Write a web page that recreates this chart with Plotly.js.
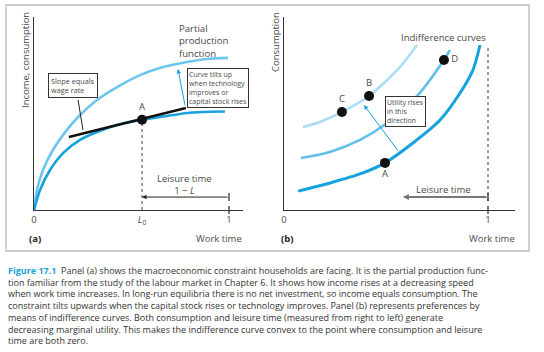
<!DOCTYPE html>
<html><head><meta charset="utf-8">
<script src="https://cdn.plot.ly/plotly-3.0.1.min.js"></script>
<style>html,body{margin:0;padding:0;background:#fff}#chart{width:544px;height:352px}</style>
</head><body><div id="chart"></div>
<script>
// ---------- Panel (a): partial production function ----------
const workA   = [0, 0.031, 0.082, 0.149, 0.236, 0.323, 0.426, 0.549, 0.662, 0.785, 0.867, 0.979];
const lowerA  = [0, 0.104, 0.207, 0.295, 0.363, 0.404, 0.440, 0.466, 0.484, 0.503, 0.508, 0.510];
const workA2  = [0, 0.015, 0.046, 0.097, 0.169, 0.236, 0.323, 0.426, 0.544, 0.662, 0.785, 0.887, 0.995];
const upperA  = [0, 0.104, 0.207, 0.311, 0.415, 0.492, 0.570, 0.637, 0.699, 0.741, 0.767, 0.782, 0.788];
const L0 = 0.554;
const pointAy = 0.468;
const tangentX = [0.179, 0.779];
const tangentY = [0.378, 0.528];
const leisureY = 0.067;
const tickValsA = [0, L0, 1];
const tickTextA = ['0', '<i>L</i><sub>0</sub>', '1'];

// ---------- Panel (b): indifference curves ----------
const icLowX  = [0.069, 0.225, 0.387, 0.495, 0.632, 0.765, 0.863, 0.926, 0.961];
const icLowY  = [0.098, 0.140, 0.192, 0.244, 0.347, 0.466, 0.606, 0.725, 0.855];
const icMidX  = [0.083, 0.225, 0.373, 0.505, 0.657, 0.784, 0.814];
const icMidY  = [0.269, 0.301, 0.363, 0.451, 0.596, 0.777, 0.829];
const icHighX = [0.093, 0.176, 0.284, 0.417, 0.485, 0.569, 0.652];
const icHighY = [0.430, 0.456, 0.508, 0.591, 0.653, 0.741, 0.855];
const ptLabels = ['A', 'B', 'C', 'D'];
const ptX = [0.495, 0.417, 0.284, 0.784];
const ptY = [0.244, 0.591, 0.508, 0.777];
const ptPos = ['bottom center', 'top center', 'top center', 'middle right'];
const leisureHeadB = 0.583;
const dottedTopB = 0.855;
const tickValsB = [0, 1];
const tickTextB = ['0', '1'];

const W = 544, H = 352;
const px = x => x / W, py = y => 1 - y / H;
const FONT = 'Open Sans, Noto Sans, sans-serif';
const TXT = '#4a4a4a';
const BLUE = '#16a2de', BLUE_MID = '#62bfea', BLUE_LIGHT = '#a9dcf5', BLUE_A_UP = '#6cc6ef';

const traces = [
  {x: workA2, y: upperA, xaxis: 'x', yaxis: 'y', mode: 'lines', line: {color: BLUE_A_UP, width: 2.6, shape: 'spline', smoothing: 0.8}, cliponaxis: false, hoverinfo: 'skip'},
  {x: workA, y: lowerA, xaxis: 'x', yaxis: 'y', mode: 'lines', line: {color: BLUE, width: 2.6, shape: 'spline', smoothing: 0.8}, cliponaxis: false, hoverinfo: 'skip'},
  {x: [L0, L0], y: [0, pointAy], xaxis: 'x', yaxis: 'y', mode: 'lines', line: {color: '#777', width: 1.4, dash: 'dot'}, hoverinfo: 'skip'},
  {x: tangentX, y: tangentY, xaxis: 'x', yaxis: 'y', mode: 'lines', line: {color: '#111', width: 2.6}, hoverinfo: 'skip'},
  {x: [L0], y: [pointAy], xaxis: 'x', yaxis: 'y', mode: 'markers+text', text: ['A'], textposition: 'top center',
   textfont: {family: FONT, size: 9.5, color: TXT}, marker: {color: '#111', size: 10}, cliponaxis: false, hoverinfo: 'skip'},

  {x: icHighX, y: icHighY, xaxis: 'x2', yaxis: 'y2', mode: 'lines', line: {color: BLUE_LIGHT, width: 2.6, shape: 'spline', smoothing: 0.8}, hoverinfo: 'skip'},
  {x: icMidX, y: icMidY, xaxis: 'x2', yaxis: 'y2', mode: 'lines', line: {color: BLUE_MID, width: 2.6, shape: 'spline', smoothing: 0.8}, hoverinfo: 'skip'},
  {x: icLowX, y: icLowY, xaxis: 'x2', yaxis: 'y2', mode: 'lines', line: {color: BLUE, width: 3, shape: 'spline', smoothing: 0.8}, hoverinfo: 'skip'},
  {x: [1, 1], y: [leisureY - 0.02, dottedTopB], xaxis: 'x2', yaxis: 'y2', mode: 'lines', line: {color: '#777', width: 1.4, dash: 'dot'}, hoverinfo: 'skip'},
  {x: ptX, y: ptY, xaxis: 'x2', yaxis: 'y2', mode: 'markers+text', text: ptLabels, textposition: ptPos,
   textfont: {family: FONT, size: 9.5, color: TXT}, marker: {color: '#111', size: 10}, cliponaxis: false, hoverinfo: 'skip'}
];

const axisBase = {showline: true, linecolor: '#333', linewidth: 1.3, showgrid: false, zeroline: false, ticks: '', fixedrange: true};
const ydom = [py(210), py(17)];

const captionLines = [
  '<span style="color:#1ba1db"><b>Figure 17.1</b></span>  Panel (a) shows the macroeconomic constraint households are facing. It is the partial production func-',
  'tion familiar from the study of the labour market in Chapter 6. It shows how income rises at a decreasing speed',
  'when work time increases. In long-run equilibria there is no net investment, so income equals consumption. The',
  'constraint tilts upwards when the capital stock rises or technology improves. Panel (b) represents preferences by',
  'means of indifference curves. Both consumption and leisure time (measured from right to left) generate',
  'decreasing marginal utility. This makes the indifference curve convex to the point where consumption and leisure',
  'time are both zero.'
];

const ann = [];
const txt = (text, x, y, opts = {}) => ann.push(Object.assign({text, x: px(x), y: py(y), xref: 'paper', yref: 'paper', showarrow: false,
  xanchor: 'center', yanchor: 'middle', font: {family: FONT, size: 9.5, color: TXT}}, opts));

// Panel (a) labels
txt('Partial<br>production<br>function', 178, 21, {xanchor: 'left', yanchor: 'top', align: 'left', borderpad: 0, font: {family: FONT, size: 9.6, color: TXT}});
txt('Income, consumption', 26, 60, {textangle: -90});
txt('Leisure time<br>1 − <i>L</i>', 184, 184);
txt('<b>(a)</b>', 35, 238, {font: {family: FONT, size: 9.5, color: '#222'}});
txt('Work time', 219, 238);
txt('Slope equals<br>wage rate', 48, 73, {xanchor: 'left', yanchor: 'top', align: 'left', bgcolor: '#fff', bordercolor: '#333', borderwidth: 1, borderpad: 2,
  font: {family: FONT, size: 7.3, color: TXT}});
txt('Curve tilts up<br>when technology<br>improves or<br>capital stock rises', 187, 68, {xanchor: 'left', yanchor: 'top', align: 'left', bgcolor: '#fff', bordercolor: '#333', borderwidth: 1, borderpad: 1,
  font: {family: FONT, size: 7, color: TXT}});

// Panel (b) labels
txt('Consumption', 275, 42, {textangle: -90});
txt('Indifference curves', 443, 37);
txt('Leisure time', 443, 189);
txt('<b>(b)</b>', 287, 238, {font: {family: FONT, size: 9.5, color: '#222'}});
txt('Work time', 492, 238);
txt('Utility rises<br>in this<br>direction', 385, 96, {xanchor: 'left', yanchor: 'top', align: 'left', bgcolor: '#fff', bordercolor: '#333', borderwidth: 1, borderpad: 1,
  font: {family: FONT, size: 7, color: TXT}});

// Arrows
ann.push({x: L0, y: leisureY, ax: 1, ay: leisureY, xref: 'x', yref: 'y', axref: 'x', ayref: 'y', text: '', showarrow: true,
  arrowhead: 2, arrowsize: 0.9, arrowwidth: 1, arrowcolor: '#222'});
ann.push({x: 0.738, y: 0.731, ax: 0.776, ay: 0.534, xref: 'x', yref: 'y', axref: 'x', ayref: 'y', text: '', showarrow: true,
  arrowhead: 2, arrowsize: 0.9, arrowwidth: 1, arrowcolor: BLUE});
ann.push({x: leisureHeadB, y: leisureY, ax: 1, ay: leisureY, xref: 'x2', yref: 'y2', axref: 'x2', ayref: 'y2', text: '', showarrow: true,
  arrowhead: 2, arrowsize: 0.6, arrowwidth: 2, arrowcolor: '#777'});
ann.push({x: 0.392, y: 0.544, ax: 0.564, ay: 0.300, xref: 'x2', yref: 'y2', axref: 'x2', ayref: 'y2', text: '', showarrow: true,
  arrowhead: 2, arrowsize: 0.9, arrowwidth: 1, arrowcolor: BLUE});

// Caption (one block)
txt(captionLines.join('<br>'), 7, 305, {xanchor: 'left', align: 'left', borderpad: 0, font: {family: FONT, size: 9, color: '#333'}});

const shapes = [
  {type: 'rect', xref: 'paper', yref: 'paper', x0: px(6), x1: px(529), y0: py(251), y1: py(5), line: {color: '#cfcfcf', width: 2}},
  {type: 'line', xref: 'x', yref: 'y', x0: 0.226, y0: 0.570, x1: 0.251, y1: 0.415, line: {color: '#222', width: 1}},
  {type: 'line', xref: 'x', yref: 'paper', x0: 1, x1: 1, y0: py(214), y1: py(206), line: {color: '#333', width: 1.3}},
  {type: 'line', xref: 'x', yref: 'paper', x0: 1, x1: 1, y0: py(201), y1: py(193), line: {color: '#333', width: 1.3}},
  {type: 'line', xref: 'x2', yref: 'paper', x0: 1, x1: 1, y0: py(214), y1: py(206), line: {color: '#333', width: 1.3}},
  {type: 'line', xref: 'x2', yref: 'paper', x0: 1, x1: 1, y0: py(201), y1: py(193), line: {color: '#333', width: 1.3}}
];

const layout = {
  width: W, height: H, margin: {l: 0, r: 0, t: 0, b: 0}, showlegend: false,
  paper_bgcolor: '#fff', plot_bgcolor: 'rgba(0,0,0,0)',
  font: {family: FONT, color: TXT},
  xaxis: Object.assign({}, axisBase, {domain: [px(34), px(243)], range: [0, 209 / 195], anchor: 'y',
    tickvals: tickValsA, ticktext: tickTextA, tickfont: {family: FONT, size: 9.5, color: TXT}}),
  yaxis: Object.assign({}, axisBase, {domain: ydom, range: [0, 1], anchor: 'x', showticklabels: false}),
  xaxis2: Object.assign({}, axisBase, {domain: [px(284), px(515)], range: [0, 231 / 204], anchor: 'y2',
    tickvals: tickValsB, ticktext: tickTextB, tickfont: {family: FONT, size: 9.5, color: TXT}}),
  yaxis2: Object.assign({}, axisBase, {domain: ydom, range: [0, 1], anchor: 'x2', showticklabels: false}),
  annotations: ann, shapes: shapes
};

Plotly.newPlot('chart', traces, layout, {staticPlot: true, displayModeBar: false});
</script></body></html>
